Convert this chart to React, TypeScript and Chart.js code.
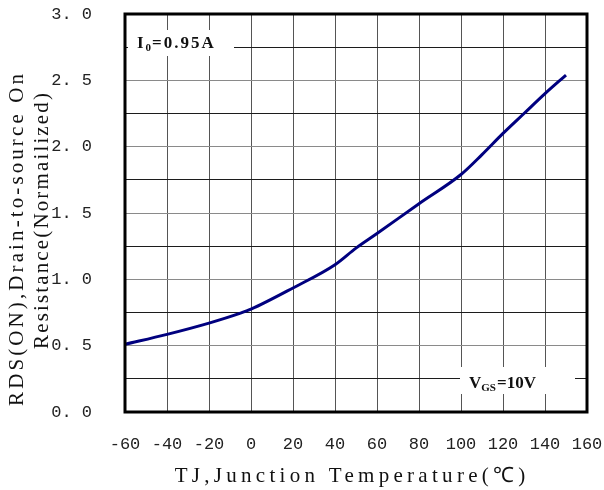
import React, { useEffect, useRef } from 'react';
import { Chart, registerables } from 'chart.js';

Chart.register(...registerables);

// ---- data ----
const temperatures = [-60, -40, -20, -5, 0, 20, 40, 50, 60, 80, 100, 110, 120, 130, 140, 150];
const rdsOn = [0.51, 0.585, 0.67, 0.745, 0.775, 0.935, 1.11, 1.235, 1.345, 1.57, 1.79, 1.94, 2.1, 2.25, 2.4, 2.54];
const X_MIN = -60;
const X_MAX = 160;
const X_STEP = 20;
const Y_MIN = 0;
const Y_MAX = 3;
const Y_GRID_STEP = 0.25;
const Y_LABEL_STEP = 0.5;
const xTitle = 'TJ,Junction Temperature(℃)';
const yTitle = ['RDS(ON),Drain-to-source On', 'Resistance(Normailized)'];
const noteCurrent = { main: 'I', sub: '0', rest: '=0.95A' };
const noteVoltage = { main: 'V', sub: 'GS', rest: '=10V' };

const TITLE_FONT = '21px "Liberation Serif", serif';
const TICK_FONT = { family: '"Liberation Mono", monospace', size: 17 };
const NOTE_FONT = 'bold 17px "Liberation Serif", serif';
const NOTE_SUB_FONT = 'bold 11px "Liberation Serif", serif';

const TARGET = { left: 125, top: 14, right: 587, bottom: 412 };

function drawFitted(ctx: CanvasRenderingContext2D, text: string, x: number, y: number, width: number, rotate: boolean) {
  ctx.save();
  ctx.font = TITLE_FONT;
  (ctx as any).letterSpacing = '0px';
  const w = ctx.measureText(text).width;
  const n = [...text].length;
  const sp = Math.max(0, (width - w) / n);
  (ctx as any).letterSpacing = sp + 'px';
  ctx.translate(x, y);
  if (rotate) ctx.rotate(-Math.PI / 2);
  ctx.textAlign = 'center';
  ctx.textBaseline = 'middle';
  ctx.fillStyle = '#111';
  ctx.fillText(text, sp / 2, 0);
  ctx.restore();
}

function drawNote(ctx: CanvasRenderingContext2D, note: { main: string; sub: string; rest: string }, x: number, baseline: number, spacing: number) {
  ctx.save();
  ctx.fillStyle = '#111';
  ctx.textBaseline = 'alphabetic';
  ctx.textAlign = 'left';
  ctx.font = NOTE_FONT;
  (ctx as any).letterSpacing = spacing + 'px';
  ctx.fillText(note.main, x, baseline);
  let cx = x + ctx.measureText(note.main).width;
  ctx.font = NOTE_SUB_FONT;
  (ctx as any).letterSpacing = '0px';
  ctx.fillText(note.sub, cx, baseline + 3);
  cx += ctx.measureText(note.sub).width + 1;
  ctx.font = NOTE_FONT;
  (ctx as any).letterSpacing = spacing + 'px';
  ctx.fillText(note.rest, cx, baseline);
  ctx.restore();
}

const decorPlugin = {
  id: 'decor',
  afterDatasetsDraw(chart: any) {
    const ctx: CanvasRenderingContext2D = chart.ctx;
    ctx.save();
    ctx.fillStyle = '#ffffff';
    ctx.fillRect(128, 30, 106, 26);
    ctx.fillRect(460, 367, 115, 27);
    ctx.restore();
    drawNote(ctx, noteCurrent, 137, 48, 2);
    drawNote(ctx, noteVoltage, 469, 388, 0);
  },
  afterDraw(chart: any) {
    const ctx: CanvasRenderingContext2D = chart.ctx;
    const a = chart.chartArea;
    ctx.save();
    ctx.strokeStyle = '#000';
    ctx.lineWidth = 3;
    ctx.strokeRect(a.left, a.top, a.right - a.left, a.bottom - a.top);
    ctx.restore();
    drawFitted(ctx, xTitle, 350, 476, 355, false);
    drawFitted(ctx, yTitle[0], 17, 240, 335, true);
    drawFitted(ctx, yTitle[1], 42, 221, 258, true);
  },
};

function zeroPad(s: any) {
  s.paddingTop = 0;
  s.paddingBottom = 0;
  s.paddingLeft = 0;
  s.paddingRight = 0;
}

export default function App() {
  const ref = useRef<HTMLCanvasElement | null>(null);
  useEffect(() => {
    if (!ref.current) return;
    const padding = { left: TARGET.left - 125, right: 604 - TARGET.right, top: TARGET.top, bottom: 490 - TARGET.bottom - 78 };
    const chart = new Chart(ref.current, {
      type: 'line',
      data: {
        datasets: [
          {
            data: temperatures.map((t, i) => ({ x: t, y: rdsOn[i] })),
            borderColor: '#00007f',
            borderWidth: 3,
            pointRadius: 0,
            tension: 0.3,
            cubicInterpolationMode: 'monotone',
            fill: false,
          },
        ],
      },
      options: {
        animation: false,
        responsive: false,
        devicePixelRatio: 1,
        layout: { padding },
        plugins: { legend: { display: false }, tooltip: { enabled: false }, title: { display: false } },
        scales: {
          x: {
            type: 'linear',
            min: X_MIN,
            max: X_MAX,
            afterFit: (s: any) => { s.height = 78; zeroPad(s); },
            border: { display: false },
            grid: { color: '#555', lineWidth: 1, drawTicks: false },
            ticks: {
              stepSize: X_STEP,
              padding: 22,
              color: '#222',
              font: TICK_FONT,
              maxRotation: 0,
              autoSkip: false,
            },
          },
          y: {
            type: 'linear',
            min: Y_MIN,
            max: Y_MAX,
            afterFit: (s: any) => { s.width = 125; zeroPad(s); },
            border: { display: false },
            grid: {
              drawTicks: false,
              lineWidth: 1,
              color: (c: any) => {
                const v = c.tick ? c.tick.value : 0;
                return Math.abs(v / Y_LABEL_STEP - Math.round(v / Y_LABEL_STEP)) < 1e-6 ? '#8a8a8a' : '#1c1c1c';
              },
            },
            ticks: {
              stepSize: Y_GRID_STEP,
              padding: 33,
              color: '#222',
              autoSkip: false,
              font: TICK_FONT,
              callback: (v: any) => {
                const n = Number(v);
                return Math.abs(n / Y_LABEL_STEP - Math.round(n / Y_LABEL_STEP)) < 1e-6 ? n.toFixed(1).replace('.', '. ') : '';
              },
            },
          },
        },
      } as any,
      plugins: [decorPlugin],
    });
    // correct the plot area to the reference position
    for (let i = 0; i < 3; i++) {
      const a = chart.chartArea;
      const dl = a.left - TARGET.left;
      const dt = a.top - TARGET.top;
      const dr = TARGET.right - a.right;
      const db = TARGET.bottom - a.bottom;
      if (Math.abs(dl) < 0.5 && Math.abs(dt) < 0.5 && Math.abs(dr) < 0.5 && Math.abs(db) < 0.5) break;
      padding.left = Math.max(0, padding.left - dl);
      padding.top = Math.max(0, padding.top - dt);
      padding.right = Math.max(0, padding.right - dr);
      padding.bottom = Math.max(0, padding.bottom - db);
      (chart.options as any).layout.padding = { ...padding };
      chart.update();
    }
    return () => chart.destroy();
  }, []);
  return (
    <div style={{ position: 'absolute', left: 0, top: 0, width: 604, height: 490, background: '#fff' }}>
      <canvas ref={ref} width={604} height={490} style={{ width: 604, height: 490, display: 'block' }} />
    </div>
  );
}
